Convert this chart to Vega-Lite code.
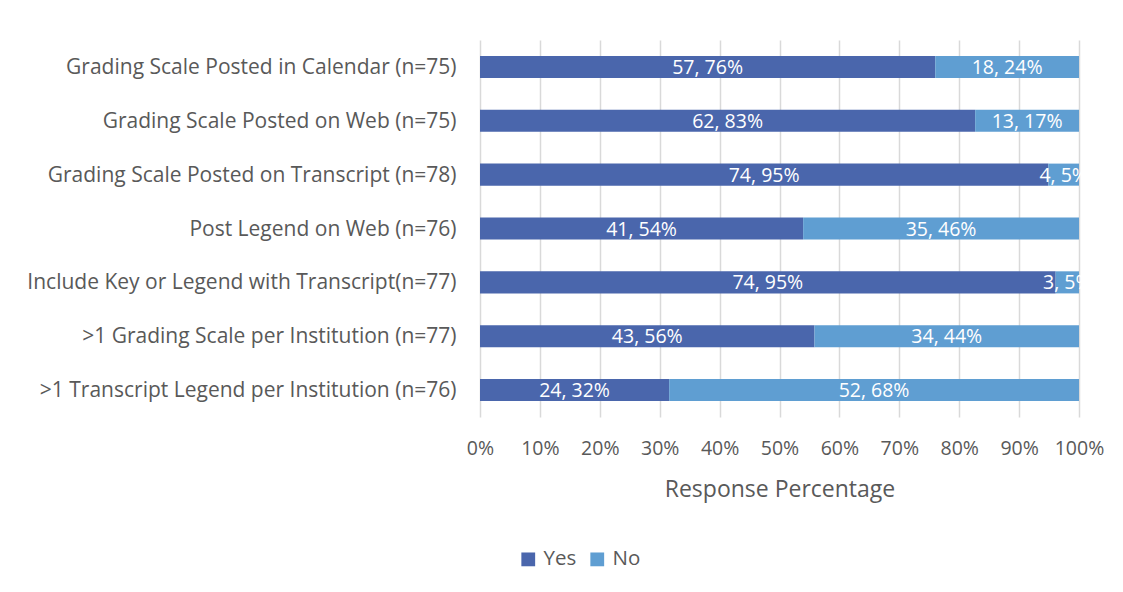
{
  "$schema": "https://vega.github.io/schema/vega-lite/v6.json",
  "width": 599,
  "height": 377,
  "autosize": {"type": "none"},
  "padding": {"left": 480, "top": 40, "right": 44, "bottom": 175},
  "background": "white",
  "config": {
    "view": {"stroke": null},
    "font": "Open Sans"
  },
  "data": {
    "values": [
      {"item": "Grading Scale Posted in Calendar (n=75)", "response": "Yes", "count": 57, "label": "57, 76%", "order": 1},
      {"item": "Grading Scale Posted in Calendar (n=75)", "response": "No", "count": 18, "label": "18, 24%", "order": 2},
      {"item": "Grading Scale Posted on Web (n=75)", "response": "Yes", "count": 62, "label": "62, 83%", "order": 1},
      {"item": "Grading Scale Posted on Web (n=75)", "response": "No", "count": 13, "label": "13, 17%", "order": 2},
      {"item": "Grading Scale Posted on Transcript (n=78)", "response": "Yes", "count": 74, "label": "74, 95%", "order": 1},
      {"item": "Grading Scale Posted on Transcript (n=78)", "response": "No", "count": 4, "label": "4, 5%", "order": 2},
      {"item": "Post Legend on Web (n=76)", "response": "Yes", "count": 41, "label": "41, 54%", "order": 1},
      {"item": "Post Legend on Web (n=76)", "response": "No", "count": 35, "label": "35, 46%", "order": 2},
      {"item": "Include Key or Legend with Transcript(n=77)", "response": "Yes", "count": 74, "label": "74, 95%", "order": 1},
      {"item": "Include Key or Legend with Transcript(n=77)", "response": "No", "count": 3, "label": "3, 5%", "order": 2},
      {"item": ">1 Grading Scale per Institution (n=77)", "response": "Yes", "count": 43, "label": "43, 56%", "order": 1},
      {"item": ">1 Grading Scale per Institution (n=77)", "response": "No", "count": 34, "label": "34, 44%", "order": 2},
      {"item": ">1 Transcript Legend per Institution (n=76)", "response": "Yes", "count": 24, "label": "24, 32%", "order": 1},
      {"item": ">1 Transcript Legend per Institution (n=76)", "response": "No", "count": 52, "label": "52, 68%", "order": 2}
    ]
  },
  "encoding": {
    "y": {
      "field": "item",
      "type": "nominal",
      "sort": null,
      "scale": {"paddingInner": 0.59, "paddingOuter": 0.295},
      "axis": {
        "title": null,
        "domain": false,
        "ticks": false,
        "labelFontSize": 21,
        "labelColor": "#595959",
        "labelPadding": 24,
        "labelLimit": 475,
        "labelOffset": 1
      }
    }
  },
  "layer": [
    {
      "mark": {"type": "bar"},
      "encoding": {
        "x": {
          "field": "count",
          "type": "quantitative",
          "stack": "normalize",
          "scale": {"domain": [0, 1]},
          "axis": {
            "title": "Response Percentage",
            "format": ".0%",
            "values": [0, 0.1, 0.2, 0.3, 0.4, 0.5, 0.6, 0.7, 0.8, 0.9, 1],
            "labelOverlap": false,
            "labelFlush": false,
            "domain": false,
            "ticks": false,
            "grid": true,
            "gridColor": "#D9D9D9",
            "gridWidth": 1.5,
            "labelFontSize": 19.5,
            "labelColor": "#595959",
            "labelPadding": 22,
            "titleFontSize": 23,
            "titleFontWeight": "normal",
            "titleColor": "#595959",
            "titlePadding": 21
          }
        },
        "color": {
          "field": "response",
          "type": "nominal",
          "sort": ["Yes", "No"],
          "scale": {"domain": ["Yes", "No"], "range": ["#4A66AC", "#5F9ED2"]},
          "legend": {
            "title": null,
            "orient": "none",
            "legendX": 38,
            "legendY": 509,
            "direction": "horizontal",
            "symbolType": "square",
            "symbolSize": 190,
            "symbolStrokeWidth": 0,
            "labelFontSize": 20.5,
            "labelColor": "#595959",
            "columnPadding": 10,
            "labelOffset": 5
          }
        },
        "order": {"field": "order", "type": "quantitative"}
      }
    },
    {
      "mark": {"type": "text", "color": "white", "fontSize": 19.5, "baseline": "middle", "align": "center", "dy": 1},
      "encoding": {
        "x": {
          "field": "count",
          "type": "quantitative",
          "stack": "normalize",
          "bandPosition": 0.5
        },
        "detail": {"field": "response", "type": "nominal"},
        "order": {"field": "order", "type": "quantitative"},
        "text": {"field": "label", "type": "nominal"}
      }
    }
  ]
}
